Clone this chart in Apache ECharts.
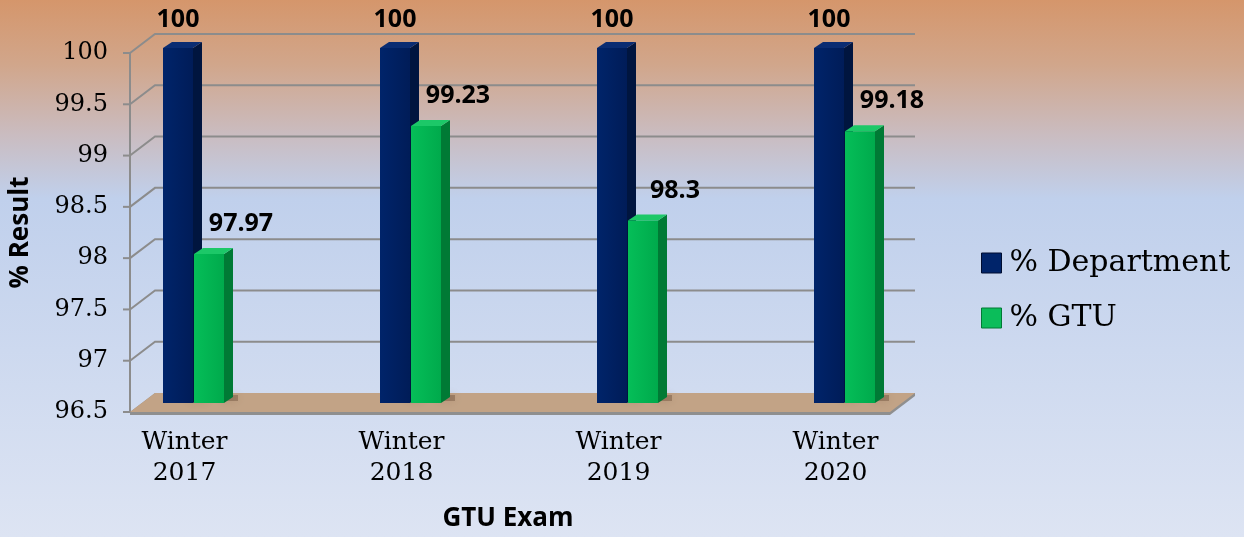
<!DOCTYPE html>
<html>
<head>
<meta charset="utf-8">
<script src="https://cdn.jsdelivr.net/npm/echarts@6/dist/echarts.min.js"></script>
<style>
  html, body { margin: 0; padding: 0; }
  #chart { width: 1244px; height: 537px; }
</style>
</head>
<body>
<div id="chart"></div>
<script>
var categories = ['Winter\n2017', 'Winter\n2018', 'Winter\n2019', 'Winter\n2020'];
var deptValues = [100, 100, 100, 100];
var gtuValues = [97.97, 99.23, 98.3, 99.18];
var yTicks = [96.5, 97, 97.5, 98, 98.5, 99, 99.5, 100];

var DX = 25, DY = -19;   // depth of the walls/floor
var BX = 9, BY = -6;     // depth of a bar
var BW = 30;             // bar front width

var myChart = echarts.init(document.getElementById('chart'));

// back wall lines, left wall diagonals and the floor
function renderWalls(params, api) {
    var v = api.value(0);
    var fl = api.coord([0, v]);
    var fr = api.coord([1, v]);
    var children = [];
    if (v === yTicks[0]) {
        children.push({
            type: 'polygon',
            shape: { points: [[fl[0], fl[1] + 3], [fr[0], fr[1] + 3], [fr[0] + DX, fr[1] + DY + 3], [fr[0] + DX, fr[1] + DY], [fl[0] + DX, fl[1] + DY], [fl[0], fl[1]]] },
            style: { fill: '#8f8f8f' }
        });
        children.push({
            type: 'polygon',
            shape: { points: [[fl[0], fl[1]], [fr[0], fr[1]], [fr[0] + DX, fr[1] + DY], [fl[0] + DX, fl[1] + DY]] },
            style: { fill: '#c2a386' }
        });
    } else {
        children.push({
            type: 'polyline',
            shape: { points: [[fl[0], fl[1]], [fl[0] + DX, fl[1] + DY], [fr[0] + DX, fr[1] + DY]] },
            style: { stroke: '#8c8c8c', lineWidth: 2, fill: null }
        });
    }
    children.push({
        type: 'line',
        shape: { x1: fl[0] - 7, y1: fl[1], x2: fl[0], y2: fl[1] },
        style: { stroke: '#8c8c8c', lineWidth: 2 }
    });
    return { type: 'group', children: children };
}

function makeBarRender(side, front, sideColor, topColor, labelDx, labelDy) {
    return function (params, api) {
        var c = api.value(0);
        var v = api.value(1);
        var top = api.coord([c, v]);
        var base = api.coord([c, yTicks[0]]);
        var x0 = side < 0 ? top[0] - BW - 0.5 : top[0] + 0.5;
        var x1 = x0 + BW;
        var y0 = top[1], y1 = base[1];
        return {
            type: 'group',
            children: [
                // soft shadow on the floor
                {
                    type: 'rect',
                    shape: { x: x1 - 4, y: y1 - 8, width: 18, height: 6 },
                    style: { fill: 'rgba(90,60,40,0.35)', shadowBlur: 8, shadowColor: 'rgba(90,60,40,0.5)' }
                },
                {
                    type: 'polygon',
                    shape: { points: [[x1, y1], [x1, y0], [x1 + BX, y0 + BY], [x1 + BX, y1 + BY]] },
                    style: { fill: sideColor }
                },
                {
                    type: 'polygon',
                    shape: { points: [[x0, y0], [x1, y0], [x1 + BX, y0 + BY], [x0 + BX, y0 + BY]] },
                    style: { fill: topColor }
                },
                {
                    type: 'rect',
                    shape: { x: x0, y: y0, width: BW, height: y1 - y0 },
                    style: { fill: front }
                },
                {
                    type: 'text',
                    x: (x0 + x1) / 2 + labelDx,
                    y: y0 + labelDy,
                    style: {
                        text: String(v),
                        fontFamily: 'Open Sans',
                        fontWeight: 'bold',
                        fontSize: 25,
                        fill: '#000',
                        align: 'center',
                        verticalAlign: 'middle'
                    }
                }
            ]
        };
    };
}

var deptFront = { type: 'linear', x: 0, y: 0, x2: 1, y2: 0,
    colorStops: [{ offset: 0, color: '#00246a' }, { offset: 1, color: '#001c58' }] };
var gtuFront = { type: 'linear', x: 0, y: 0, x2: 1, y2: 0,
    colorStops: [{ offset: 0, color: '#05be58' }, { offset: 1, color: '#00aa4c' }] };

var option = {
    backgroundColor: {
        type: 'linear', x: 0, y: 0, x2: 0, y2: 1,
        colorStops: [
            { offset: 0, color: '#d5966b' },
            { offset: 0.12, color: '#d1a68b' },
            { offset: 0.25, color: '#cabcc0' },
            { offset: 0.37, color: '#c0d0ec' },
            { offset: 1, color: '#dde4f3' }
        ]
    },
    animation: false,
    legend: {
        orient: 'vertical',
        left: 976,
        top: 243,
        itemGap: 25,
        itemWidth: 20,
        itemHeight: 20,
        icon: 'rect',
        textStyle: { fontFamily: 'DejaVu Serif', fontSize: 30, lineHeight: 30, color: '#000', padding: [0, 0, 0, 3] },
        data: [
            { name: '% Department', itemStyle: { color: '#00246a', borderColor: '#000d30', borderWidth: 1 } },
            { name: '% GTU', itemStyle: { color: '#0bbd5a', borderColor: '#007a35', borderWidth: 1 } }
        ]
    },
    grid: [
        { left: 130, width: 760, top: 53, height: 359 },
        { left: 85, width: 868, top: 48, height: 359 }
    ],
    xAxis: [
        { gridIndex: 0, type: 'value', min: 0, max: 1, show: false },
        {
            gridIndex: 1, type: 'category', data: categories,
            axisLine: { show: false }, axisTick: { show: false },
            axisLabel: {
                margin: 24, fontFamily: 'DejaVu Serif', fontSize: 25,
                lineHeight: 31, color: '#000', padding: [0, 18, 0, 0]
            },
            name: 'GTU Exam', nameLocation: 'middle', nameGap: 103,
            nameTextStyle: { fontFamily: 'Open Sans', fontWeight: 'bold', fontSize: 26, color: '#000', padding: [0, 22, 0, 0] }
        }
    ],
    yAxis: [
        {
            gridIndex: 0, type: 'value', min: 96.5, max: 100, interval: 0.5,
            axisLine: { show: true, lineStyle: { color: '#8c8c8c', width: 2 } },
            axisTick: { show: false },
            splitLine: { show: false },
            axisLabel: { margin: 22, fontFamily: 'DejaVu Serif', fontSize: 24, color: '#000' },
            name: '% Result', nameLocation: 'middle', nameGap: 96, nameRotate: 90,
            nameTextStyle: { fontFamily: 'Open Sans', fontWeight: 'bold', fontSize: 26, color: '#000' }
        },
        { gridIndex: 1, type: 'value', min: 96.5, max: 100, show: false }
    ],
    series: [
        {
            type: 'custom', xAxisIndex: 0, yAxisIndex: 0, silent: true,
            renderItem: renderWalls,
            data: yTicks.map(function (t) { return [t]; }),
            encode: { y: 0 },
            z: 1
        },
        {
            name: '% Department', type: 'custom', xAxisIndex: 1, yAxisIndex: 1,
            renderItem: makeBarRender(-1, deptFront, '#00153f', '#0a2c72', 0, -28),
            data: deptValues.map(function (v, i) { return [i, v]; }),
            encode: { x: 0, y: 1 },
            z: 3
        },
        {
            name: '% GTU', type: 'custom', xAxisIndex: 1, yAxisIndex: 1,
            renderItem: makeBarRender(1, gtuFront, '#007a35', '#1cc868', 32, -30),
            data: gtuValues.map(function (v, i) { return [i, v]; }),
            encode: { x: 0, y: 1 },
            z: 3
        }
    ]
};

myChart.setOption(option);
</script>
</body>
</html>
